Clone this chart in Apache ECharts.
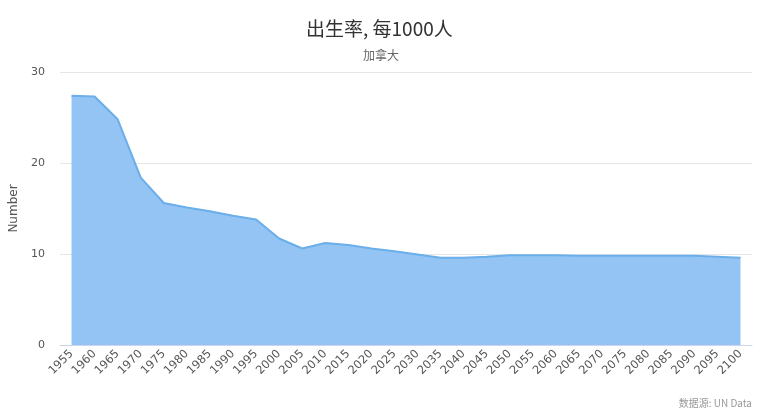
<!DOCTYPE html>
<html>
<head>
<meta charset="utf-8">
<script src="https://cdn.jsdelivr.net/npm/echarts@6/dist/echarts.min.js"></script>
<style>html,body{margin:0;padding:0;background:#fff}#c{width:774px;height:419px}</style>
</head>
<body>
<div id="c"></div>
<script>
var years = ['1955','1960','1965','1970','1975','1980','1985','1990','1995','2000','2005','2010','2015','2020','2025','2030','2035','2040','2045','2050','2055','2060','2065','2070','2075','2080','2085','2090','2095','2100'];
var birthRate = [27.4,27.3,24.8,18.4,15.6,15.1,14.7,14.2,13.8,11.7,10.6,11.2,11.0,10.6,10.3,9.95,9.6,9.6,9.7,9.85,9.85,9.85,9.8,9.8,9.8,9.8,9.8,9.8,9.7,9.6];
var yTicks = [0,10,20,30];

var chart = echarts.init(document.getElementById('c'));
chart.setOption({
  animation: false,
  title: [
    {text: '出生率, 每1000人', left: 301, top: 14,
     textStyle: {fontSize: 19, fontWeight: 'normal', color: '#333', fontFamily: 'Noto Sans CJK SC'}},
    {text: '加拿大', left: 358, top: 44,
     textStyle: {fontSize: 12, fontWeight: 'normal', color: '#666', fontFamily: 'Noto Sans CJK SC'}},
    {text: '数据源: UN Data', right: 17, top: 393,
     textStyle: {fontSize: 10, fontWeight: 'normal', color: '#999', fontFamily: 'Noto Sans CJK SC'}}
  ],
  grid: {left: 60, right: 22, top: 72, bottom: 74, containLabel: false},
  xAxis: {
    type: 'category', data: years, boundaryGap: true,
    axisLine: {lineStyle: {color: '#ccd6eb'}},
    axisTick: {show: false},
    axisLabel: {rotate: 45, interval: 0, color: '#555', fontSize: 11.5, margin: 7, fontFamily: 'DejaVu Sans'}
  },
  yAxis: {
    type: 'value', min: yTicks[0], max: yTicks[yTicks.length-1], interval: 10,
    name: 'Number', nameLocation: 'middle', nameGap: 33, nameRotate: 90,
    nameTextStyle: {color: '#555', fontSize: 12, fontFamily: 'DejaVu Sans'},
    axisLine: {show: false}, axisTick: {show: false},
    axisLabel: {color: '#555', fontSize: 11, margin: 15, fontFamily: 'DejaVu Sans'},
    splitLine: {lineStyle: {color: '#e6e6e6'}}
  },
  series: [{
    type: 'line', data: birthRate, symbol: 'none',
    lineStyle: {color: '#6aaeea', width: 2},
    areaStyle: {color: '#93c4f3', opacity: 1}
  }]
});
</script>
</body>
</html>
